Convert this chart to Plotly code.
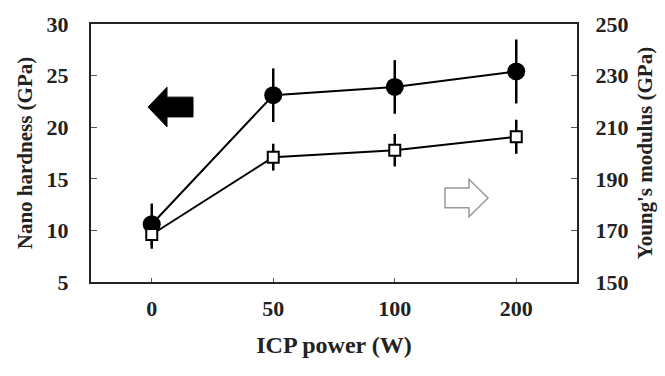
import plotly.graph_objects as go

power = ["0", "50", "100", "200"]
hardness = [10.6, 23.1, 23.9, 25.4]
hardness_err = [2.0, 2.6, 2.6, 3.1]
modulus = [168.4, 198.4, 201.1, 206.3]
modulus_err = [5.5, 5.2, 6.3, 6.6]

FONT = "Liberation Serif"

fig = go.Figure()
fig.add_trace(go.Scatter(
    x=power, y=hardness, mode="lines+markers",
    line=dict(color="black", width=2),
    marker=dict(symbol="circle", size=18, color="black"),
    error_y=dict(type="data", array=hardness_err, color="black", thickness=2.5, width=0),
    yaxis="y", showlegend=False))
fig.add_trace(go.Scatter(
    x=power, y=modulus, mode="lines+markers",
    line=dict(color="black", width=2),
    marker=dict(symbol="square", size=11, color="white", line=dict(color="black", width=2)),
    error_y=dict(type="data", array=modulus_err, color="black", thickness=2.5, width=0),
    yaxis="y2", showlegend=False))

tickfont = dict(family=FONT, size=22, color="#222")
xtitlefont = dict(family=FONT, size=24, color="#222")
ytitlefont = dict(family=FONT, size=21, color="#222")

fig.update_layout(
    width=665, height=376,
    margin=dict(l=91, r=88, t=21, b=94),
    paper_bgcolor="white", plot_bgcolor="white",
    font=dict(family=FONT),
    xaxis=dict(type="category", range=[-0.5, 3.5], showline=True, linecolor="#222", linewidth=2,
               mirror=True, ticks="inside", ticklen=4, tickwidth=1, tickcolor="#555",
               showgrid=False, tickfont=tickfont, ticklabelstandoff=6,
               tickprefix="<b>", ticksuffix="</b>",
               title=dict(text="<b>ICP power (W)</b>", font=xtitlefont, standoff=16)),
    yaxis=dict(range=[5, 30], dtick=5, showline=True, linecolor="#222", linewidth=2,
               ticks="inside", ticklen=6, tickwidth=1, tickcolor="#555", showgrid=False,
               zeroline=False, tickfont=tickfont, ticklabelstandoff=16,
               tickprefix="<b>", ticksuffix="</b>",
               title=dict(text="<b>Nano hardness (GPa)</b>", font=ytitlefont, standoff=8)),
    yaxis2=dict(range=[150, 250], tick0=150, dtick=20, overlaying="y", side="right", showline=True,
                linecolor="#222", linewidth=2, ticks="inside", ticklen=6, tickwidth=1,
                tickcolor="#555", showgrid=False, zeroline=False, tickfont=tickfont,
                ticklabelstandoff=12, tickprefix="<b>", ticksuffix="</b>",
                title=dict(text="<b>Young's modulus (GPa)</b>", font=ytitlefont, standoff=10)),
    shapes=[
        dict(type="path", xref="paper", yref="paper",
             path="M 0.1173,0.678 L 0.1564,0.7548 L 0.1564,0.7165 L 0.2099,0.7165 L 0.2099,0.6398 L 0.1564,0.6398 L 0.1564,0.6015 Z",
             fillcolor="black", line=dict(color="black", width=1)),
        dict(type="path", xref="paper", yref="paper",
             path="M 0.7284,0.364 L 0.7778,0.364 L 0.7778,0.3985 L 0.8169,0.3257 L 0.7778,0.2529 L 0.7778,0.2874 L 0.7284,0.2874 Z",
             fillcolor="white", line=dict(color="#999", width=1.5)),
    ],
)
fig.write_html("out.html")
